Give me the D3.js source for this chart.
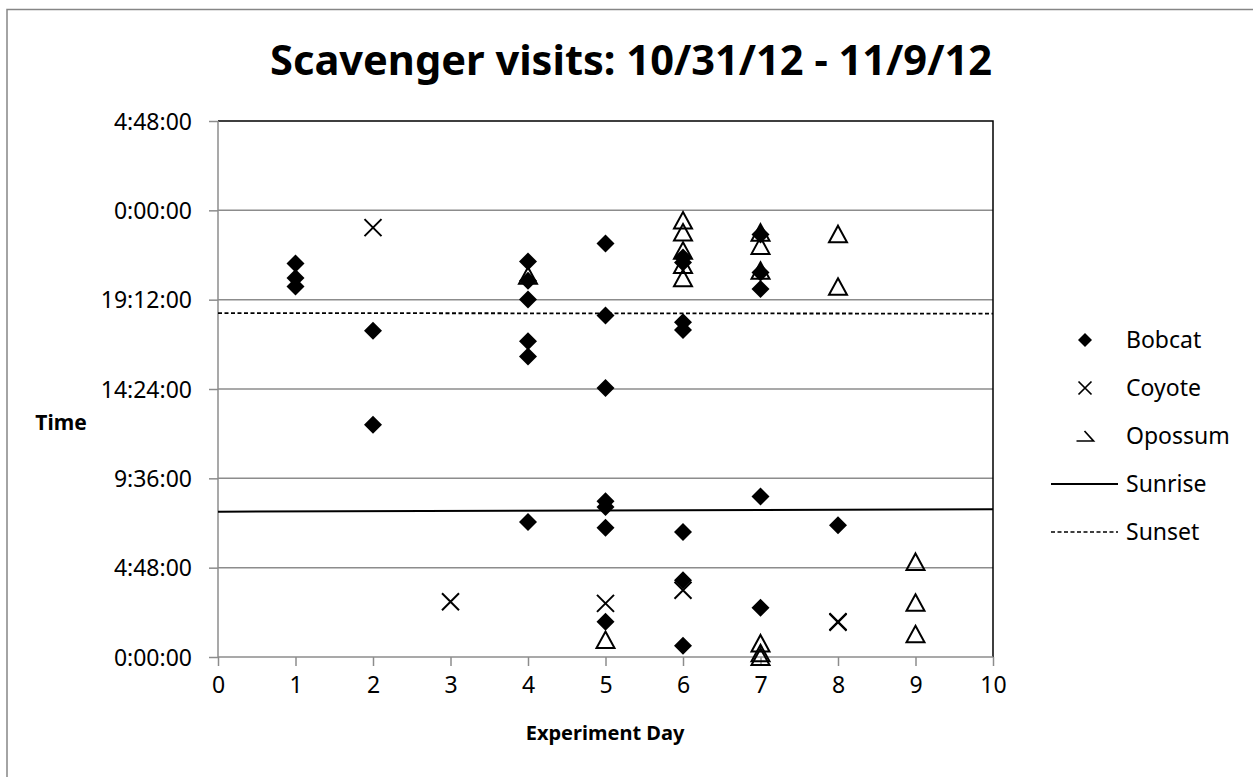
<!DOCTYPE html>
<html>
<head>
<meta charset="utf-8">
<title>Scavenger visits</title>
<script src="https://d3js.org/d3.v7.min.js"></script>
<style>
  body { margin: 0; background: #fff; }
  text { font-family: "Noto Sans", sans-serif; fill: #000; }
</style>
</head>
<body>
<svg width="1253" height="777"></svg>
<script>
// visit times in hours after midnight, per experiment day
var bobcatDay   = [1, 1, 1, 2, 2, 4, 4, 4, 4, 4, 4, 5, 5, 5, 5, 5, 5, 5, 6, 6, 6, 6, 6, 6, 6, 7, 7, 7, 7, 7, 8];
var bobcatTime  = [21.14, 20.36, 19.91, 17.53, 12.48, 21.25, 20.21, 19.21, 16.96, 16.14, 7.26,
                   22.22, 18.35, 14.46, 8.37, 8.06, 6.95, 1.89, 21.47, 21.20, 17.98, 17.57, 6.72, 4.13, 0.61,
                   22.7, 20.66, 19.77, 8.63, 2.65, 7.08];
var coyoteDay   = [2, 3, 5, 6, 8, 8];
var coyoteTime  = [23.07, 2.97, 2.88, 3.59, 1.9, 1.87];
var opossumDay  = [4, 5, 6, 6, 6, 6, 6, 7, 7, 7, 7, 7, 7, 8, 8, 9, 9, 9];
var opossumTime = [20.48, 0.91, 23.45, 22.81, 21.83, 21.06, 20.35, 22.8, 22.09, 20.75, 0.73, 0.2, 0.0,
                   22.72, 19.89, 5.11, 2.91, 1.22];
var sunDays     = [0, 10];
var sunrise     = [7.81, 7.94];
var sunset      = [18.48, 18.45];
var xTicks      = [0, 1, 2, 3, 4, 5, 6, 7, 8, 9, 10];
var yTicks      = [0, 4.8, 9.6, 14.4, 19.2, 24, 28.8];
var legendNames = ["Bobcat", "Coyote", "Opossum", "Sunrise", "Sunset"];

var svg = d3.select("svg");
var plotLeft = 218, plotRight = 993, plotTop = 121, plotBottom = 657;

var x = d3.scaleLinear().domain([0, 10]).range([plotLeft, plotRight]);
var y = d3.scaleLinear().domain([0, 28.8]).range([plotBottom, plotTop]);

function fmt(h) {
  var s = Math.round(h * 3600);
  var hh = Math.floor(s / 3600) % 24;
  var mm = Math.floor((s % 3600) / 60);
  var ss = s % 60;
  return hh + ":" + d3.format("02d")(mm) + ":" + d3.format("02d")(ss);
}

// chart border
svg.append("rect")
  .attr("x", 7).attr("y", 9.5).attr("width", 1260).attr("height", 790)
  .attr("fill", "none").attr("stroke", "#868686").attr("stroke-width", 1.5);

// title
svg.append("text")
  .attr("x", 631).attr("y", 75)
  .attr("text-anchor", "middle")
  .attr("font-size", 42).attr("font-weight", "bold")
  .attr("textLength", 722).attr("lengthAdjust", "spacingAndGlyphs")
  .text("Scavenger visits: 10/31/12 - 11/9/12");

// gridlines
svg.append("g").selectAll("line")
  .data(yTicks.slice(1, -1))
  .enter().append("line")
  .attr("x1", plotLeft).attr("x2", plotRight)
  .attr("y1", function(d) { return y(d); })
  .attr("y2", function(d) { return y(d); })
  .attr("stroke", "#8c8c8c").attr("stroke-width", 1.5);

// plot border top and right
svg.append("path")
  .attr("d", "M" + plotLeft + "," + plotTop + "H" + plotRight + "V" + plotBottom)
  .attr("fill", "none").attr("stroke", "#000").attr("stroke-width", 1.5);

// y axis
var yAxis = svg.append("g")
  .attr("transform", "translate(" + plotLeft + ",0)")
  .call(d3.axisLeft(y).tickValues(yTicks).tickFormat(fmt).tickSize(9).tickPadding(17));

// x axis
var xAxis = svg.append("g")
  .attr("transform", "translate(0," + plotBottom + ")")
  .call(d3.axisBottom(x).tickValues(xTicks).tickFormat(d3.format("d")).tickSize(9).tickPadding(10));

[yAxis, xAxis].forEach(function(a) {
  a.select(".domain").attr("stroke", "#8c8c8c").attr("stroke-width", 1.5);
  a.selectAll(".tick line").attr("stroke", "#8c8c8c").attr("stroke-width", 1.5);
  a.selectAll(".tick text").attr("font-size", 23).attr("fill", "#000")
    .style("font-family", "'Noto Sans', sans-serif");
});
yAxis.select(".domain").attr("d", "M0," + plotBottom + "V" + plotTop);
xAxis.select(".domain").attr("d", "M" + plotLeft + ",0H" + plotRight);
yAxis.selectAll(".tick text").attr("dy", "0.36em");
xAxis.selectAll(".tick text").attr("dy", "0.75em");

// axis titles
svg.append("text").attr("x", 61).attr("y", 430)
  .attr("text-anchor", "middle").attr("font-size", 21).attr("font-weight", "bold")
  .text("Time");
svg.append("text").attr("x", 605).attr("y", 740)
  .attr("text-anchor", "middle").attr("font-size", 20).attr("font-weight", "bold")
  .text("Experiment Day");

// sunrise / sunset lines
var line = d3.line()
  .x(function(d) { return x(d[0]); })
  .y(function(d) { return y(d[1]); });

svg.append("path")
  .datum(d3.zip(sunDays, sunrise))
  .attr("d", line)
  .attr("fill", "none").attr("stroke", "#000").attr("stroke-width", 2);
svg.append("path")
  .datum(d3.zip(sunDays, sunset))
  .attr("d", line)
  .attr("fill", "none").attr("stroke", "#000").attr("stroke-width", 1.8)
  .attr("stroke-dasharray", "4,2.5");

// marker shapes
var diamond = "M0,-9L9,0L0,9L-9,0Z";
var cross = "M-8.5,-8.5L8.5,8.5M8.5,-8.5L-8.5,8.5";
var triangle = "M0,-8.5L9,8L-9,8Z";

// bobcat
svg.append("g").selectAll("path")
  .data(d3.zip(bobcatDay, bobcatTime))
  .enter().append("path")
  .attr("transform", function(d) { return "translate(" + x(d[0]) + "," + y(d[1]) + ")"; })
  .attr("d", diamond)
  .attr("fill", "#000");

// coyote
svg.append("g").selectAll("path")
  .data(d3.zip(coyoteDay, coyoteTime))
  .enter().append("path")
  .attr("transform", function(d) { return "translate(" + x(d[0]) + "," + y(d[1]) + ")"; })
  .attr("d", cross)
  .attr("fill", "none").attr("stroke", "#000").attr("stroke-width", 2);

// opossum
svg.append("g").selectAll("path")
  .data(d3.zip(opossumDay, opossumTime))
  .enter().append("path")
  .attr("transform", function(d) { return "translate(" + x(d[0]) + "," + y(d[1]) + ")"; })
  .attr("d", triangle)
  .attr("fill", "none").attr("stroke", "#000").attr("stroke-width", 2);

// legend
var legendY = d3.scaleLinear().domain([0, 4]).range([340, 532]);
var lg = svg.append("g").selectAll("g")
  .data(legendNames)
  .enter().append("g")
  .attr("transform", function(d, i) { return "translate(0," + legendY(i) + ")"; });

lg.append("text")
  .attr("x", 1126).attr("dy", "0.36em")
  .attr("font-size", 23)
  .text(function(d) { return d; });

lg.append("path")
  .attr("transform", "translate(1085,0)")
  .attr("d", function(d) {
    if (d === "Bobcat") return "M0,-7L7,0L0,7L-7,0Z";
    if (d === "Coyote") return "M-6.5,-6.5L6.5,6.5M6.5,-6.5L-6.5,6.5";
    if (d === "Opossum") return "M-0.5,-5L8.5,5L-8.5,5";
    return "M-34,0H33";
  })
  .attr("fill", function(d) { return d === "Bobcat" ? "#000" : "none"; })
  .attr("stroke", "#000")
  .attr("stroke-width", function(d) { return d === "Bobcat" ? 0 : (d === "Sunrise" ? 2 : 1.7); })
  .attr("stroke-dasharray", function(d) { return d === "Sunset" ? "4,2.5" : null; });
</script>
</body>
</html>
